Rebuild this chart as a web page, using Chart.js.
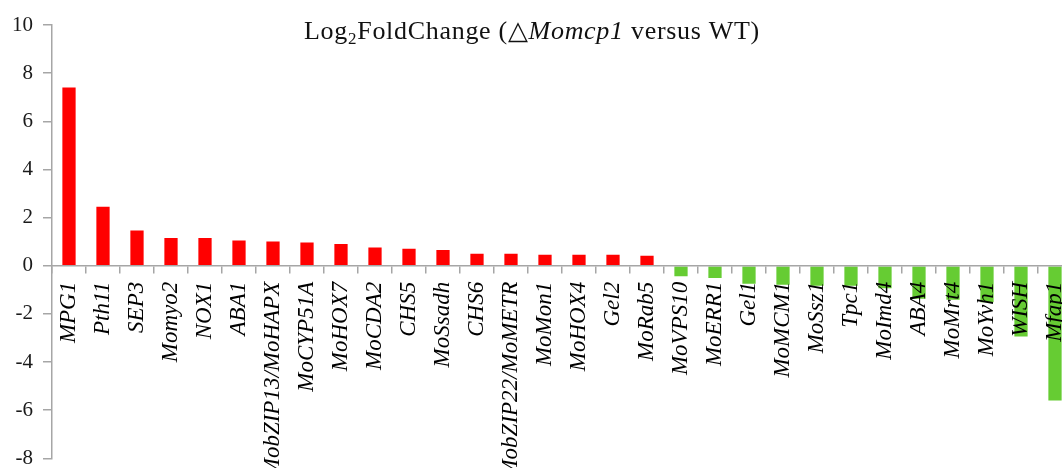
<!DOCTYPE html>
<html>
<head>
<meta charset="utf-8">
<script src="https://cdn.jsdelivr.net/npm/chart.js@4.4.1/dist/chart.umd.min.js"></script>
<style>
  html, body { margin: 0; padding: 0; background: #ffffff; }
  #frame { width: 1062px; height: 468px; overflow: hidden; position: relative; }
  #chart { display: block; }
</style>
</head>
<body>
<div id="frame"><canvas id="chart" width="1080" height="481"></canvas></div>
<script>
// Genes, ordered from most up-regulated to most down-regulated
const genes = [
  'MPG1', 'Pth11', 'SEP3', 'Momyo2', 'NOX1', 'ABA1', 'MobZIP13/MoHAPX', 'MoCYP51A',
  'MoHOX7', 'MoCDA2', 'CHS5', 'MoSsadh', 'CHS6', 'MobZIP22/MoMETR', 'MoMon1', 'MoHOX4',
  'Gel2', 'MoRab5', 'MoVPS10', 'MoERR1', 'Gel1', 'MoMCM1', 'MoSsz1', 'Tpc1', 'MoImd4',
  'ABA4', 'MoMrt4', 'MoYvh1', 'WISH', 'Mfap1'
];

// log2 fold change, deletion mutant vs wild type
const log2FC = [
  7.4, 2.45, 1.47, 1.15, 1.15, 1.05, 1.01, 0.97,
  0.90, 0.76, 0.71, 0.66, 0.50, 0.50, 0.46, 0.46,
  0.46, 0.42, -0.44, -0.51, -0.75, -0.79, -0.83, -0.83, -0.93,
  -1.37, -1.41, -1.51, -2.94, -5.6
];

const yTicks = [-8, -6, -4, -2, 0, 2, 4, 6, 8, 10];

const UP_COLOR = '#ff0000';
const DOWN_COLOR = '#66cc33';
const AXIS_COLOR = '#a6a6a6';
const SERIF = '"Liberation Serif", "Times New Roman", "DejaVu Serif", serif';

// Title with a subscript and an italic gene name, drawn piece by piece
const titlePlugin = {
  id: 'foldTitle',
  afterDraw(chart) {
    const ctx = chart.ctx;
    const size = 26;
    const parts = [
      { t: 'Log', font: `${size}px ${SERIF}`, dy: 0 },
      { t: '2', font: `${Math.round(size * 0.66)}px ${SERIF}`, dy: 5 },
      { t: 'FoldChange (', font: `${size}px ${SERIF}`, dy: 0 },
      { t: '\u25B3', font: `${size}px ${SERIF}`, dy: 0 },
      { t: 'Momcp1', font: `italic ${size}px ${SERIF}`, dy: 0 },
      { t: ' versus WT)', font: `${size}px ${SERIF}`, dy: 0 }
    ];
    ctx.save();
    if ('letterSpacing' in ctx) ctx.letterSpacing = '0.7px';
    let total = 0;
    for (const p of parts) { ctx.font = p.font; p.w = ctx.measureText(p.t).width; total += p.w; }
    let x = 532 - total / 2;
    const baseline = 38.5;
    ctx.fillStyle = '#111111';
    ctx.textBaseline = 'alphabetic';
    ctx.textAlign = 'left';
    for (const p of parts) {
      ctx.font = p.font;
      ctx.fillText(p.t, x, baseline + p.dy);
      x += p.w;
    }
    ctx.restore();
  }
};

new Chart(document.getElementById('chart'), {
  type: 'bar',
  data: {
    labels: genes,
    datasets: [{
      data: log2FC,
      backgroundColor: log2FC.map(v => v >= 0 ? UP_COLOR : DOWN_COLOR),
      borderWidth: 0,
      categoryPercentage: 1.0,
      barPercentage: 0.39
    }]
  },
  options: {
    responsive: false,
    animation: false,
    devicePixelRatio: 1,
    layout: { padding: { top: 25, bottom: 10, left: 0, right: 8 } },
    plugins: {
      legend: { display: false },
      tooltip: { enabled: false },
      title: { display: false }
    },
    scales: {
      x: {
        type: 'category',
        position: { y: 0 },
        offset: true,
        // rotated labels may spill past the plot edges; keep the plot full width
        afterFit(scale) { scale.paddingLeft = 0; scale.paddingRight = 0; },
        grid: {
          offset: true,
          drawOnChartArea: false,
          drawTicks: true,
          tickLength: 7,
          color: AXIS_COLOR,
          lineWidth: 1.5,
          z: 1
        },
        border: { display: true, color: AXIS_COLOR, width: 1.5, z: 1 },
        ticks: {
          z: 1,
          autoSkip: false,
          minRotation: 90,
          maxRotation: 90,
          padding: 9,
          color: '#000000',
          font: { family: SERIF, size: 23, style: 'italic' }
        }
      },
      y: {
        min: -8,
        max: 10,
        afterFit(scale) { scale.width = 52; },
        afterBuildTicks(scale) { scale.ticks = yTicks.map(v => ({ value: v })); },
        grid: {
          drawOnChartArea: false,
          drawTicks: true,
          tickLength: 9,
          color: AXIS_COLOR,
          lineWidth: 1.5
        },
        border: { display: true, color: AXIS_COLOR, width: 1.5 },
        ticks: {
          padding: 10,
          color: '#1a1a1a',
          font: { family: SERIF, size: 21 }
        }
      }
    }
  },
  plugins: [titlePlugin]
});
</script>
</body>
</html>
